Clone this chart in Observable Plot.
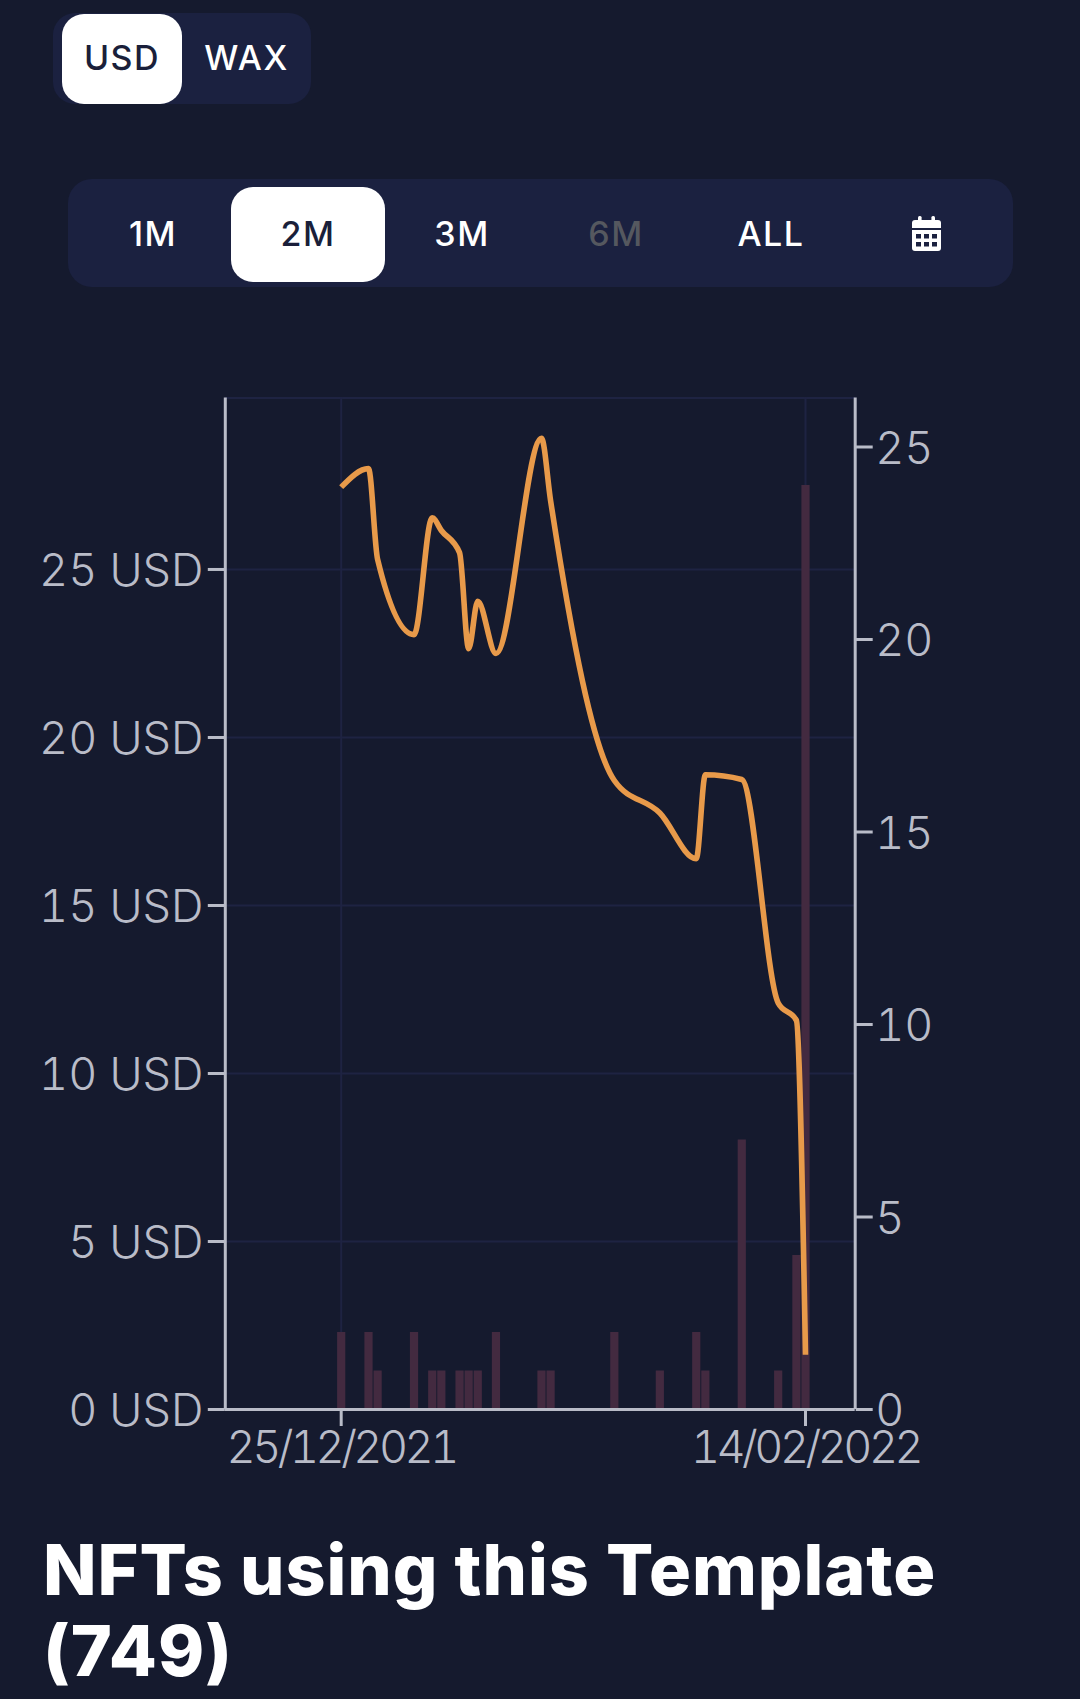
<!DOCTYPE html>
<html>
<head>
<meta charset="utf-8">
<script src="https://cdn.jsdelivr.net/npm/d3@7"></script>
<script src="https://cdn.jsdelivr.net/npm/@observablehq/plot@0.6"></script>
<style>
html,body{margin:0;padding:0;background:#151a2e;width:1080px;height:1699px;overflow:hidden;font-family:Inter,"Open Sans",sans-serif;}
.abs{position:absolute;box-sizing:border-box;}
.btn{display:flex;align-items:center;justify-content:center;font-weight:500;color:#fff;font-size:34px;letter-spacing:1.5px;}
.on{background:#fff;color:#1a1f3a;}
#chart{position:absolute;left:0;top:0;}
#title{position:absolute;left:43px;top:1529px;width:1030px;font-size:70px;line-height:81px;font-weight:800;color:#fff;letter-spacing:0.95px;}
g[aria-label="x-axis tick label"]{letter-spacing:-3.5px;}
</style>
</head>
<body>
<div class="abs" style="left:53px;top:13px;width:258px;height:91px;background:#1b2140;border-radius:22px;"></div>
<div class="abs btn on" style="left:62px;top:14px;width:120px;height:90px;border-radius:22px;padding-bottom:4px;">USD</div>
<div class="abs btn" style="left:182px;top:14px;width:129px;height:90px;padding-bottom:4px;">WAX</div>
<div class="abs" style="left:68px;top:179px;width:945px;height:108px;background:#1b2140;border-radius:24px;"></div>
<div class="abs btn on" style="left:231px;top:187px;width:154px;height:95px;border-radius:22px;padding-bottom:2px;">2M</div>
<div class="abs btn" style="left:103px;top:187px;width:100px;height:95px;padding-bottom:2px;">1M</div>
<div class="abs btn" style="left:412px;top:187px;width:100px;height:95px;padding-bottom:2px;">3M</div>
<div class="abs btn" style="left:566px;top:187px;width:100px;height:95px;padding-bottom:2px;color:#55585f;">6M</div>
<div class="abs btn" style="left:721px;top:187px;width:100px;height:95px;padding-bottom:2px;">ALL</div>
<svg class="abs" style="left:912px;top:216px;" width="29" height="35" viewBox="0 0 29 35">
  <rect x="6" y="0" width="3.6" height="7" rx="1.5" fill="#fff"/>
  <rect x="19.4" y="0" width="3.6" height="7" rx="1.5" fill="#fff"/>
  <path d="M3 4h23a3 3 0 0 1 3 3v5H0V7a3 3 0 0 1 3-3z" fill="#fff"/>
  <path d="M0 14h29v18a3 3 0 0 1-3 3H3a3 3 0 0 1-3-3z" fill="#fff"/>
  <g fill="#1b2140">
    <rect x="4" y="18" width="5" height="4.5"/><rect x="12" y="18" width="5" height="4.5"/><rect x="20" y="18" width="5" height="4.5"/>
    <rect x="4" y="26" width="5" height="4.5"/><rect x="12" y="26" width="5" height="4.5"/><rect x="20" y="26" width="5" height="4.5"/>
  </g>
</svg>
<div id="chart"></div>
<div id="title">NFTs using this Template<br>(749)</div>
<script>
const dates = ["2021-12-25","2021-12-28","2021-12-29","2022-01-02","2022-01-04","2022-01-05","2022-01-07","2022-01-08","2022-01-09","2022-01-11","2022-01-16","2022-01-17","2022-01-24","2022-01-29","2022-02-02","2022-02-03","2022-02-07","2022-02-11","2022-02-13","2022-02-14"];
const sales = [2,2,1,2,1,1,1,1,1,2,1,1,2,1,2,1,7,1,4,24];
const priceUSD = [27.45,28.0,25.3,23.06,26.54,26.16,25.5,22.64,24.05,22.5,28.9,27.05,18.72,17.75,16.39,18.89,18.75,12.1,11.58,1.63];
const usdTicks = [0,5,10,15,20,25];
const countTicks = [0,5,10,15,20,25];
const dateTicks = ["2021-12-25","2022-02-14"];
const usdMax = 30.1, countMax = 26.27;
const xDomain = [new Date("2021-12-12T06:30Z"), new Date("2022-02-19T11:00Z")];

const ratio = usdMax / countMax;
const rows = dates.map((d,i)=>({date:new Date(d+"T00:00Z"), sales:sales[i], price:priceUSD[i]}));
const tickDates = dateTicks.map(d=>new Date(d+"T00:00Z"));
const fmt = d3.utcFormat("%d/%m/%Y");
const grid = "#1e2342", axis = "#b9bcc8", fs = 45;

const plot = Plot.plot({
  width:1080, height:1480,
  marginTop:397.6, marginBottom:71, marginLeft:224.8, marginRight:225.3,
  style:{background:"transparent", fontFamily:"Inter, sans-serif", fontWeight:300, overflow:"visible"},
  x:{type:"utc", domain:xDomain},
  y:{domain:[0,usdMax]},
  marks:[
    Plot.gridY(usdTicks.concat([usdMax]), {stroke:grid, strokeOpacity:1, strokeWidth:2}),
    Plot.gridX(tickDates, {stroke:grid, strokeOpacity:1, strokeWidth:2}),
    Plot.ruleX(rows, {x:"date", y1:0, y2:d=>d.sales*ratio, stroke:"#432a40", strokeWidth:8.2}),
    Plot.ruleX([xDomain[0], xDomain[1]], {stroke:axis, strokeWidth:3}),
    Plot.ruleY([0], {stroke:axis, strokeWidth:3}),
    Plot.axisY({ticks:usdTicks, anchor:"left", tickSize:17, tickPadding:5, fontSize:fs, fill:axis, stroke:axis, strokeWidth:3, tickFormat:d=>d+" USD", label:null}),
    Plot.axisY({ticks:countTicks.map(c=>c*ratio), anchor:"right", tickSize:17, tickPadding:3, fontSize:fs, fill:axis, stroke:axis, strokeWidth:3, tickFormat:d=>String(Math.round(d/ratio)), label:null}),
    Plot.axisX({ticks:tickDates, anchor:"bottom", tickSize:17, tickPadding:4, fontSize:fs, fill:axis, stroke:axis, strokeWidth:3, tickFormat:fmt, label:null}),
    Plot.line(rows, {x:"date", y:"price", stroke:"#e89a4a", strokeWidth:5.6, curve:"monotone-x", strokeLinecap:"butt"})
  ]
});
d3.select(plot).selectAll('g[aria-label="y-axis tick label"]').attr("transform", function(){ return (this.getAttribute("transform")||"") + " translate(0,2.5)"; });
d3.select(plot).selectAll('g[aria-label="x-axis tick label"]').attr("transform", function(){ return (this.getAttribute("transform")||"") + " translate(0,1)"; });
document.getElementById("chart").appendChild(plot);
</script>
</body>
</html>
